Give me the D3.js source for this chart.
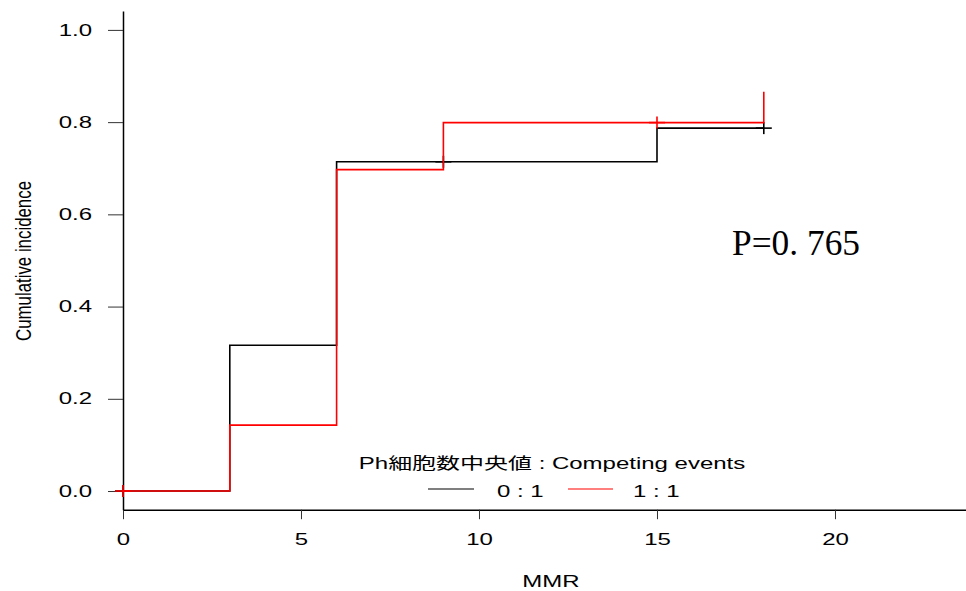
<!DOCTYPE html>
<html><head><meta charset="utf-8">
<script src="https://cdn.jsdelivr.net/npm/d3@7"></script>
<style>
html,body{margin:0;padding:0;background:#fff;}
svg{display:block;}
</style></head>
<body>
<script>
// ---- data ----
const xTicks = [0, 5, 10, 15, 20];
const yTicks = [0, 0.2, 0.4, 0.6, 0.8, 1.0];
const groupNames = ["0 : 1", "1 : 1"];
const groupColors = ["#000000", "#ff0000"];
const blackTimes = [0, 3, 6, 15, 18];
const blackValues = [0, 0.316, 0.714, 0.787, 0.787];
const blackCensorTimes = [0, 9, 18];
const blackCensorValues = [0, 0.714, 0.787];
const redTimes = [0, 3, 6, 9, 18];
const redValues = [0, 0.143, 0.697, 0.799, 0.866];
const redCensorTimes = [0, 15];
const redCensorValues = [0, 0.799];
const legendTitle = "Ph細胞数中央値 : Competing events";
const pText = "P=0. 765";

const W = 966, H = 591;
const SX = 1.5; // horizontal stretch of the reference's sans text
const SANS = "'Liberation Sans', Arial, 'Noto Sans CJK JP', sans-serif";
const svg = d3.select("body").append("svg").attr("width", W).attr("height", H);

const x = d3.scaleLinear().domain([0, 23.68]).range([123, 966]);
const y = d3.scaleLinear().domain([-0.0405, 1.041]).range([509.7, 11]);

// axes
const xAxis = svg.append("g").attr("transform", `translate(0,${y.range()[0]})`)
  .call(d3.axisBottom(x).tickValues(xTicks).tickFormat(d3.format("d")).tickSizeInner(9.5).tickSizeOuter(0).tickPadding(14));
const yAxis = svg.append("g").attr("transform", `translate(${x.range()[0]},0)`)
  .call(d3.axisLeft(y).tickValues(yTicks).tickFormat(d3.format(".1f")).tickSizeInner(15).tickSizeOuter(0).tickPadding(16));
[xAxis, yAxis].forEach(g => {
  g.select(".domain").attr("stroke", "#000").attr("stroke-width", 1.5);
  g.selectAll(".tick line").attr("stroke", "#333").attr("stroke-width", 1);
  g.selectAll(".tick text").style("font-size", "16px").style("font-family", SANS).attr("fill", "#000")
    .each(function() {
      const t = d3.select(this);
      const xv = +t.attr("x") || 0;
      t.attr("x", xv / SX).attr("transform", `scale(${SX},1)`);
    });
});

function sansText(px, py, str, anchor) {
  return svg.append("text").attr("transform", `translate(${px},${py}) scale(${SX},1)`)
    .attr("text-anchor", anchor).style("font-family", SANS).style("font-size", "16px").attr("fill", "#000").text(str);
}

// axis titles
sansText(551, 587, "MMR", "middle");
svg.append("text").attr("transform", "translate(31,261) scale(1.4,1) rotate(-90)").attr("text-anchor", "middle")
  .style("font-family", SANS).style("font-size", "16px").attr("textLength", 160).attr("lengthAdjust", "spacingAndGlyphs")
  .text("Cumulative incidence");

// curves
const line = d3.line().x(d => x(d[0])).y(d => y(d[1])).curve(d3.curveStepAfter);
function drawGroup(times, values, cTimes, cValues, color) {
  const pts = times.map((t, i) => [t, values[i]]);
  svg.append("path").datum(pts).attr("d", line).attr("fill", "none")
    .attr("stroke", color).attr("stroke-width", 1.6);
  const cens = cTimes.map((t, i) => [t, cValues[i]]);
  const g = svg.append("g").attr("stroke", color).attr("stroke-width", 1.6);
  cens.forEach(d => {
    const cx = x(d[0]), cy = y(d[1]);
    g.append("line").attr("x1", cx - 8).attr("x2", cx + 8).attr("y1", cy).attr("y2", cy);
    g.append("line").attr("x1", cx).attr("x2", cx).attr("y1", cy - 6).attr("y2", cy + 6);
  });
}
drawGroup(blackTimes, blackValues, blackCensorTimes, blackCensorValues, groupColors[0]);
drawGroup(redTimes, redValues, redCensorTimes, redCensorValues, groupColors[1]);

// P value
svg.append("text").attr("x", 732).attr("y", 255).style("font-family", "'Liberation Serif', 'DejaVu Serif', serif")
  .style("font-size", "35px").attr("fill", "#000").attr("textLength", 128).attr("lengthAdjust", "spacingAndGlyphs").text(pText);

// legend
sansText(552, 469, legendTitle, "middle");
const legX = [[428, 474, 497], [568, 613, 633]];
groupNames.forEach((n, i) => {
  svg.append("line").attr("x1", legX[i][0]).attr("x2", legX[i][1]).attr("y1", 489).attr("y2", 489)
    .attr("stroke", groupColors[i]).attr("stroke-width", 1.2);
  sansText(legX[i][2], 497, n, "start");
});
</script>
</body></html>
